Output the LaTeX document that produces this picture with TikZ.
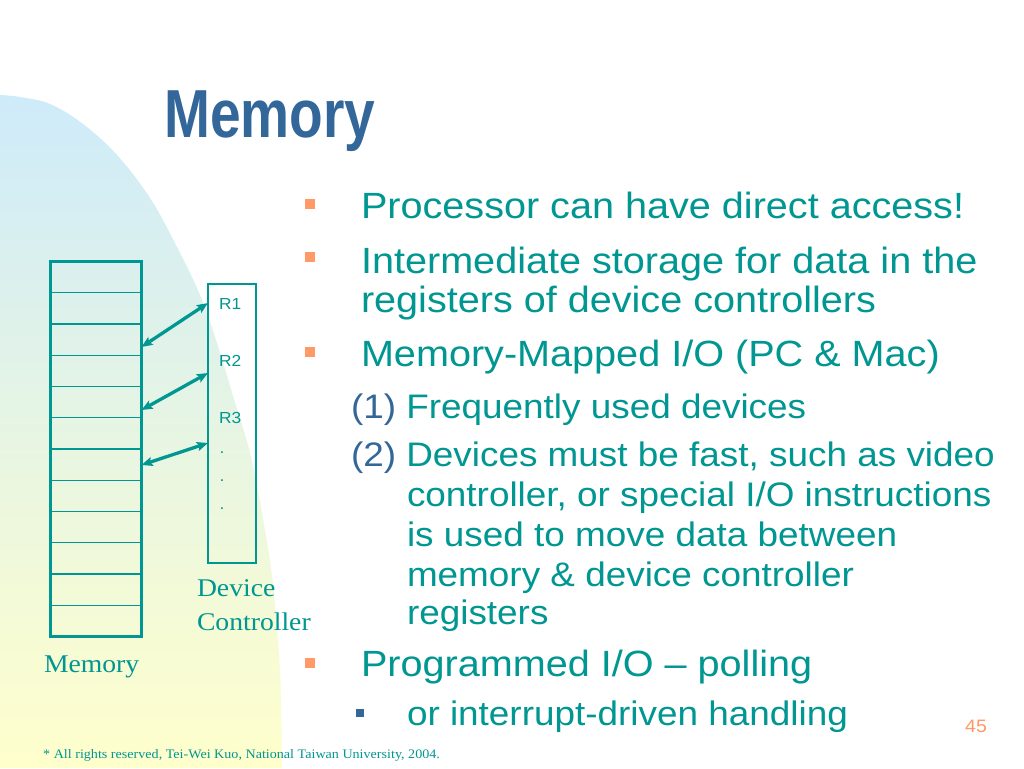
\documentclass[tikz,border=0pt]{standalone}
\usepackage{fontspec}
\usetikzlibrary{arrows.meta}
\newfontfamily\bodyfont[FakeStretch=1.085]{Liberation Sans}
\newfontfamily\titlefont[FakeStretch=0.81]{Liberation Sans Bold}
\newfontfamily\serifft[FakeStretch=1.085]{Liberation Serif}
\definecolor{tealc}{RGB}{0,150,145}
\definecolor{titleblue}{RGB}{51,102,153}
\definecolor{bulorange}{RGB}{255,153,102}
\definecolor{bgblue}{RGB}{206,235,250}
\definecolor{bgyellow}{RGB}{255,255,204}
\begin{document}
\begin{tikzpicture}[x=1pt,y=-1pt,
  txt/.style={anchor=base west,inner sep=0pt,outer sep=0pt,text=tealc},
  mainline/.style={txt,font=\bodyfont\fontsize{36.5}{40}\selectfont},
  subline/.style={txt,font=\bodyfont\fontsize{34}{40}\selectfont},
  rlab/.style={txt,font=\bodyfont\fontsize{16}{18}\selectfont},
  serl/.style={txt,font=\serifft\fontsize{25.5}{28}\selectfont},
  bul/.style={fill=bulorange,minimum size=10pt,inner sep=0pt,outer sep=0pt},
  subbul/.style={fill=titleblue,minimum size=8pt,inner sep=0pt,outer sep=0pt},
  dar/.style={tealc,line width=3.3pt,{Stealth[length=11pt,width=9pt,inset=2pt]}-{Stealth[length=11pt,width=9pt,inset=2pt]}},
  cell/.style={tealc,line width=1.1pt}]
\useasboundingbox (0,0) rectangle (1024,768);
\fill[white] (0,0) rectangle (1024,768);
% background shape
\shade[top color=bgblue,bottom color=bgyellow] (0,768) -- plot[smooth,tension=0.6] coordinates {(0,95) (20,97) (50,104) (83,124) (117,155) (150,198) (177,247) (200,295) (217,343) (233,396) (250,453) (263,519) (273,584) (280,672) (282,768)} -- cycle;
% title
\node[anchor=base west,inner sep=0pt,text=titleblue,font=\titlefont\fontsize{68}{70}\selectfont] (title) at (164,137) {Memory};
% memory box
\node[draw=tealc,line width=3pt,minimum width=91pt,minimum height=375pt,inner sep=0pt,outer sep=0pt] (mem) at (96,449) {};
\foreach \k in {1,...,11}{
  \pgfmathsetmacro\yy{261.5+\k*31.25}
  \draw[cell] (mem.west |- 0,\yy) -- (mem.east |- 0,\yy);
}
% device controller box
\node[draw=tealc,line width=1.5pt,minimum width=48pt,minimum height=279pt,inner sep=0pt,outer sep=0pt] (ctrl) at (232,423.5) {};
\node[rlab] (r1) at (219,309) {R1};
\node[rlab] (r2) at (219,366) {R2};
\node[rlab] (r3) at (219,423) {R3};
\node[rlab] (d1) at (219.5,453.5) {.};
\node[rlab] (d2) at (219.5,481.5) {.};
\node[rlab] (d3) at (219.5,509.5) {.};
% arrows
\draw[dar] (ctrl.west |- 0,303) -- (mem.east |- 0,347);
\draw[dar] (ctrl.west |- 0,373) -- (mem.east |- 0,410);
\draw[dar] (ctrl.west |- 0,443) -- (mem.east |- 0,465);
% labels
\node[serl] (devlab) at (197,596) {Device};
\node[serl] (ctrllab) at (197,630) {Controller};
\node[serl] (memlab) at (44,672) {Memory};
% bullets and text
\node[bul] (b1) at (310,204) {};
\node[mainline] (t1) at (361,218) {Processor can have direct access!};
\node[bul] (b2) at (310,257) {};
\node[mainline] (t2) at (361,273) {Intermediate storage for data in the};
\node[mainline] (t2b) at (361,312) {registers of device controllers};
\node[bul] (b3) at (310,352) {};
\node[mainline] (t3) at (361,366) {Memory-Mapped I/O (PC \& Mac)};
\node[subline] (s1) at (351,418) {\textcolor{titleblue}{(1)} Frequently used devices};
\node[subline] (s2) at (351,466) {\textcolor{titleblue}{(2)} Devices must be fast, such as video};
\node[subline] (s2b) at (407,506) {controller, or special I/O instructions};
\node[subline] (s2c) at (407,546) {is used to move data between};
\node[subline] (s2d) at (407,586) {memory \& device controller};
\node[subline] (s2e) at (407,624) {registers};
\node[bul] (b4) at (310,663) {};
\node[mainline] (t4) at (361,676) {Programmed I/O – polling};
\node[subbul] (b5) at (360,713) {};
\node[subline] (s3) at (407,725) {or interrupt-driven handling};
% footer
\node[anchor=base west,inner sep=0pt,text=bulorange,font=\bodyfont\fontsize{18}{20}\selectfont] (pg) at (965,732) {45};
\node[anchor=base west,inner sep=0pt,text=tealc,font=\serifft\fontsize{13}{15}\selectfont] (copy) at (43,758) {* All rights reserved, Tei-Wei Kuo, National Taiwan University, 2004.};
\end{tikzpicture}
\end{document}
